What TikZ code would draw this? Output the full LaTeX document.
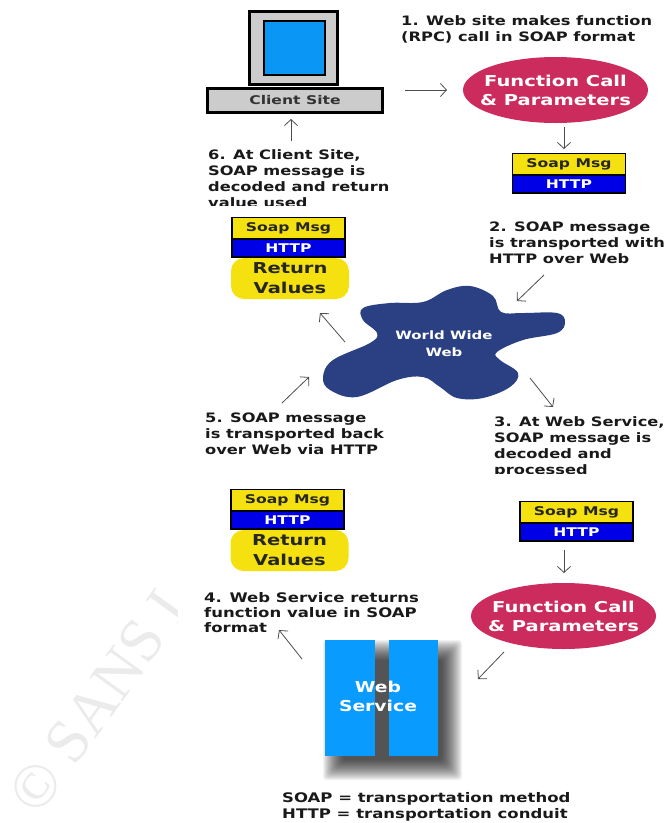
\documentclass[tikz,border=0pt]{standalone}
\usepackage{fontspec}
\setmainfont{DejaVu Sans}
\newfontfamily\widefont[FakeStretch=1.3]{DejaVu Sans}
\newfontfamily\labfont[FakeStretch=1.25]{DejaVu Sans}
\usetikzlibrary{arrows.meta,shapes.geometric}
\definecolor{scrblue}{HTML}{0A96F5}
\definecolor{wsblue}{HTML}{0A9BFF}
\definecolor{msgyellow}{HTML}{F5E10F}
\definecolor{httpblue}{HTML}{0000E6}
\definecolor{callred}{HTML}{CC2B5E}
\definecolor{webblue}{HTML}{2A4082}
\definecolor{panelgray}{HTML}{CCCCCC}
\tikzset{
  x=1pt,y=-1pt,
  label text/.style={anchor=north west,inner sep=0pt,align=left,text=black!90,font=\labfont\bfseries\fontsize{13}{16}\selectfont},
  flow/.style={draw=black!70,line width=.8pt,-{Straight Barb[length=6pt,width=13pt,line width=.8pt]}},
  soap top/.style={draw=black,line width=1.6pt,fill=msgyellow,minimum width=113pt,minimum height=21pt,inner sep=0pt,font=\widefont\bfseries\fontsize{12}{12}\selectfont,text=black!85},
  soap low/.style={draw=black,line width=1.6pt,fill=httpblue,minimum width=113pt,minimum height=18pt,inner sep=0pt,font=\widefont\bfseries\fontsize{12}{12}\selectfont,text=white},
  return box/.style={fill=msgyellow,rounded corners=13pt,minimum width=118pt,minimum height=41pt,inner sep=0pt,align=center,font=\widefont\bfseries\fontsize{15}{20}\selectfont,text=black!85},
  call/.style={ellipse,fill=callred,minimum width=185pt,minimum height=66pt,inner xsep=-30pt,inner ysep=-12pt,align=center,text=white,font=\widefont\bfseries\fontsize{15}{19}\selectfont},
  ws bar/.style={fill=wsblue,draw=none},
}
\newcommand{\soapbox}[3]{%
  \node[soap top] (#1m) at (#2,#3-10) {Soap Msg};
  \node[soap low] (#1h) at (#2,#3+10) {HTTP};
}
\begin{document}
\begin{tikzpicture}
\useasboundingbox (0,0) rectangle (669,823);
% watermark
\begin{scope}
\clip (0,560) rectangle (177,823);
\node[rotate=54,anchor=base west,inner sep=0pt,text=black!8,font=\fontspec{Liberation Serif}\fontsize{62}{62}\selectfont] (mark) at (38,818) {© SANS I};
\end{scope}
% client
\node[draw=black,line width=2.4pt,fill=panelgray,minimum width=88pt,minimum height=73pt,inner sep=0pt] (monitor) at (293.5,48) {};
\node[draw=black,line width=2pt,fill=scrblue,minimum width=61pt,minimum height=54pt,inner sep=0pt] (screen) at (294,47.5) {};
\node[draw=black,line width=2.4pt,fill=panelgray,minimum width=175pt,minimum height=24pt,inner sep=0pt,text=black!80,font=\widefont\bfseries\fontsize{12}{12}\selectfont] (client) at (295,100.5) {Client Site};
% call 1
\node[call] (call1) at (555.5,90) {Function Call\\\& Parameters};
\soapbox{a}{569}{174}
\soapbox{b}{288.5}{238}
\node[return box] (ret1) at (290,278.5) {Return\\Values};
\soapbox{c}{287.5}{510}
\node[return box] (ret2) at (289.5,550.5) {Return\\Values};
\soapbox{d}{576.5}{522}
\node[call] (call2) at (563.5,616) {Function Call\\\& Parameters};
% cloud
\fill[webblue] plot[smooth cycle,tension=.62] coordinates {
 (470,286) (493,296) (501,312) (523,313) (557,313) (565,322) (557,333) (523,340) (497,352)
 (500,360) (518,373) (510,387) (483,398) (457,398) (440,387) (423,377) (397,380) (357,397)
 (330,390) (323,377) (333,360) (370,343) (377,333) (363,320) (363,308) (390,303) (423,302) (447,290)};
\node[inner sep=0pt,align=center,text=white,font=\widefont\bfseries\fontsize{11.5}{17}\selectfont] (www) at (444,344) {World Wide\\Web};
% web service
\foreach \k in {-10,...,10}{
  \fill[black,opacity=.05,rounded corners=3pt] (333-\k,650-\k) rectangle (452+\k,770+\k);
}
\fill[ws bar] (325,640) rectangle (375,756);
\fill[ws bar] (389,640) rectangle (438,756);
\node[inner sep=0pt,align=center,text=white,font=\labfont\bfseries\fontsize{15}{19}\selectfont] (ws) at (378,696) {Web\\Service};
% labels
\node[label text] (t1) at (401,15) {1. Web site makes function\\(RPC) call in SOAP format};
\begin{scope}
\clip (200,140) rectangle (420,205);
\node[label text] (t6) at (208,149) {6. At Client Site,\\SOAP message is\\decoded and return\\value used};
\end{scope}
\node[label text] (t2) at (489,222) {2. SOAP message\\is transported with\\HTTP over Web};
\node[label text] (t5) at (205,413) {5. SOAP message\\is transported back\\over Web via HTTP};
\begin{scope}
\clip (485,410) rectangle (669,473);
\node[label text] (t3) at (494,416) {3. At Web Service,\\SOAP message is\\decoded and\\processed};
\end{scope}
\node[label text,font=\labfont\bfseries\fontsize{13.2}{15.3}\selectfont] (t4) at (204,592) {4. Web Service returns\\function value in SOAP\\format};
\node[label text,font=\labfont\bfseries\fontsize{13.2}{16}\selectfont] (t7) at (282,792) {SOAP = transportation method\\HTTP = transportation conduit};
% arrow ends
\coordinate (e1a) at (405,90);   \coordinate (e1b) at (447,90);
\coordinate (e2a) at (564,127);  \coordinate (e2b) at (564,149);
\coordinate (e3a) at (291,141);  \coordinate (e3b) at (291,119);
\coordinate (e4a) at (544,275);  \coordinate (e4b) at (517,301);
\coordinate (e5a) at (530,378);  \coordinate (e5b) at (553,407);
\coordinate (e6a) at (282,403);  \coordinate (e6b) at (309,377);
\coordinate (e7a) at (345,342);  \coordinate (e7b) at (320,313);
\coordinate (e8a) at (564,550);  \coordinate (e8b) at (564,573);
\coordinate (e9a) at (504,652);  \coordinate (e9b) at (478,679);
\coordinate (e10a) at (302,659); \coordinate (e10b) at (279,630);
\foreach \n in {1,...,10}{\draw[flow] (e\n a) -- (e\n b);}
\end{tikzpicture}
\end{document}
